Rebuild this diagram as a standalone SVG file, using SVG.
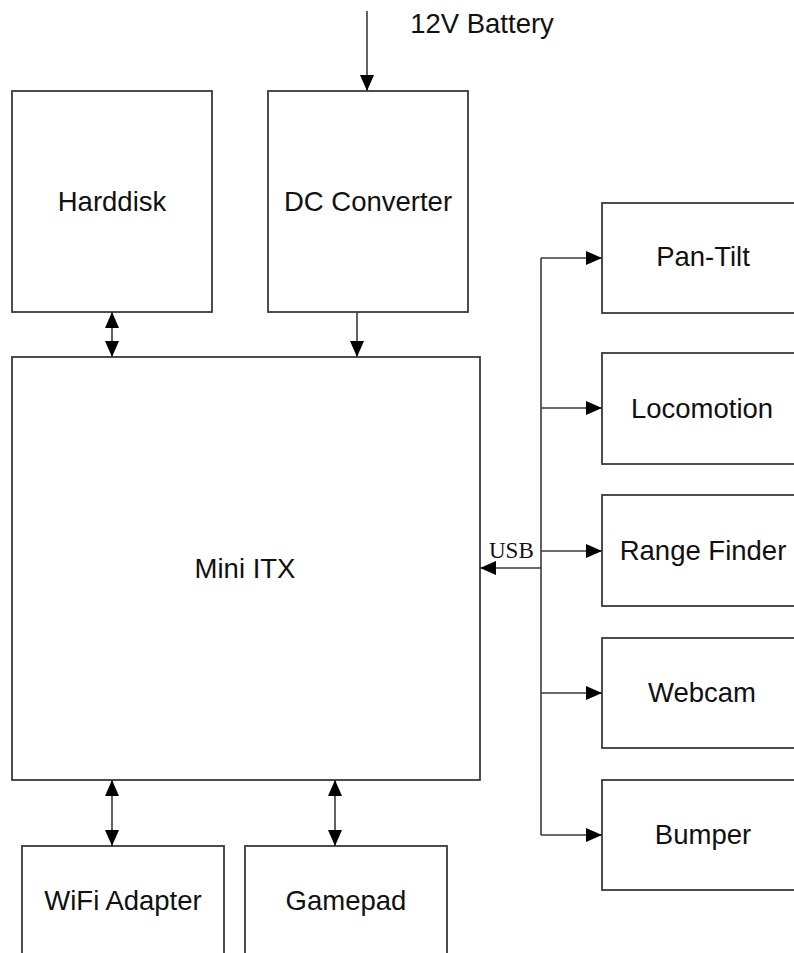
<svg xmlns="http://www.w3.org/2000/svg" width="794" height="953" viewBox="0 0 794 953">
  <style>
    .box { fill: #ffffff; stroke: #3a3a3a; stroke-width: 1.8; }
    .lbl { font-family: "Liberation Sans", Arial, sans-serif; font-size: 27.5px; fill: #111111; text-anchor: middle; }
    .usb { font-family: "Liberation Serif", "Times New Roman", serif; font-size: 23px; fill: #111111; }
    .wire { fill: none; stroke: #3a3a3a; stroke-width: 1.6; }
    .to { marker-end: url(#head); }
    .both { marker-start: url(#tail); marker-end: url(#head); }
  </style>
  <defs>
    <marker id="head" viewBox="0 0 16 14" refX="16" refY="7" markerWidth="16" markerHeight="14" markerUnits="userSpaceOnUse" orient="auto">
      <path d="M0,0 L16,7 L0,14 Z" fill="#000000"/>
    </marker>
    <marker id="tail" viewBox="0 0 16 14" refX="0" refY="7" markerWidth="16" markerHeight="14" markerUnits="userSpaceOnUse" orient="auto">
      <path d="M16,0 L0,7 L16,14 Z" fill="#000000"/>
    </marker>
  </defs>

  <rect width="794" height="953" fill="#ffffff"/>

  <text class="lbl" x="482" y="33">12V Battery</text>

  <g id="harddisk">
    <rect class="box" x="12" y="91" width="200" height="221"/>
    <text class="lbl" x="112" y="211">Harddisk</text>
  </g>
  <g id="dc-converter">
    <rect class="box" x="268" y="91" width="200" height="221"/>
    <text class="lbl" x="368" y="211">DC Converter</text>
  </g>
  <g id="mini-itx">
    <rect class="box" x="12" y="357" width="468" height="423"/>
    <text class="lbl" x="245" y="578">Mini ITX</text>
  </g>
  <g id="pan-tilt">
    <rect class="box" x="602" y="203" width="210" height="110"/>
    <text class="lbl" x="703" y="266">Pan-Tilt</text>
  </g>
  <g id="locomotion">
    <rect class="box" x="602" y="353" width="210" height="111"/>
    <text class="lbl" x="702" y="418">Locomotion</text>
  </g>
  <g id="range-finder">
    <rect class="box" x="602" y="495" width="210" height="111"/>
    <text class="lbl" x="703" y="560">Range Finder</text>
  </g>
  <g id="webcam">
    <rect class="box" x="602" y="638" width="210" height="110"/>
    <text class="lbl" x="702" y="702">Webcam</text>
  </g>
  <g id="bumper">
    <rect class="box" x="602" y="780" width="210" height="110"/>
    <text class="lbl" x="703" y="844">Bumper</text>
  </g>
  <g id="wifi-adapter">
    <rect class="box" x="22" y="846" width="202" height="120"/>
    <text class="lbl" x="123" y="910">WiFi Adapter</text>
  </g>
  <g id="gamepad">
    <rect class="box" x="245" y="846" width="202" height="120"/>
    <text class="lbl" x="346" y="910">Gamepad</text>
  </g>

  <g id="connectors">
    <line class="wire to" x1="367" y1="11" x2="367" y2="91"/>
    <line class="wire both" x1="112" y1="312" x2="112" y2="357"/>
    <line class="wire to" x1="357" y1="312" x2="357" y2="357"/>
    <line class="wire both" x1="112" y1="780" x2="112" y2="846"/>
    <line class="wire both" x1="335" y1="780" x2="335" y2="846"/>

    <line class="wire" x1="541" y1="258" x2="541" y2="835"/>
    <line class="wire to" x1="541" y1="258" x2="602" y2="258"/>
    <line class="wire to" x1="541" y1="408" x2="602" y2="408"/>
    <line class="wire to" x1="541" y1="551" x2="602" y2="551"/>
    <line class="wire to" x1="541" y1="693" x2="602" y2="693"/>
    <line class="wire to" x1="541" y1="835" x2="602" y2="835"/>
    <line class="wire to" x1="541" y1="568" x2="480" y2="568"/>
    <text class="usb" x="489" y="558">USB</text>
  </g>
</svg>
